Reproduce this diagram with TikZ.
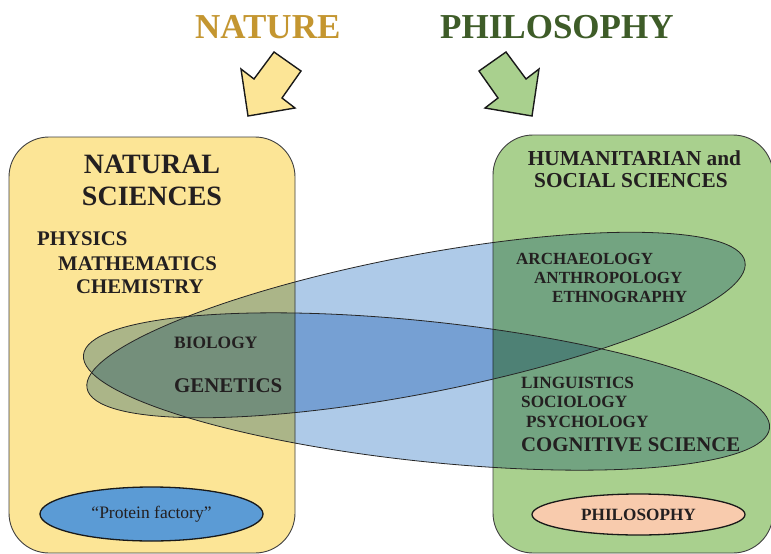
\documentclass[tikz,border=0pt]{standalone}
\usepackage{fontspec}
\setmainfont{Liberation Serif}
\usetikzlibrary{shapes.geometric}
\definecolor{boxyellow}{RGB}{252,229,150}
\definecolor{boxgreen}{RGB}{169,208,142}
\definecolor{ellblue}{RGB}{174,202,232}
\definecolor{natcol}{RGB}{196,150,48}
\definecolor{philcol}{RGB}{62,92,40}
\definecolor{txt}{RGB}{35,31,32}
\definecolor{protblue}{RGB}{91,155,213}
\definecolor{salmon}{RGB}{248,203,173}
\definecolor{edgegray}{RGB}{64,64,64}
\begin{document}
\begin{tikzpicture}[x=1pt,y=-1pt,
  lab/.style={anchor=base west, inner sep=0pt, text=txt, font=\fontsize{#1}{#1}\selectfont\bfseries},
  labc/.style={anchor=base, inner sep=0pt, text=txt, font=\fontsize{#1}{#1}\selectfont\bfseries},
  boxline/.style={draw=edgegray, line width=0.9pt, rounded corners=40pt},
  blockarrow/.style={draw=black!90, line width=1.4pt, line join=miter},
  bigell/.style={fill=ellblue, blend mode=multiply},
  bigedge/.style={draw=black!85, line width=0.8pt},
  smallell/.style={ellipse, draw=black!90, line width=1.3pt, inner sep=0pt, text=txt}
]
\clip (0,0) rectangle (771,554);
\fill[white] (0,0) rectangle (771,554);

% titles
\node[lab=35, text=natcol] (nature) at (195,38) {NATURE};
\node[lab=35, text=philcol] (philo) at (440,38) {PHILOSOPHY};

% block arrows
\draw[blockarrow, fill=boxyellow] (274,52) -- (301,71) -- (282,98) -- (295,108) -- (248,116) -- (241,69) -- (254,79) -- cycle;
\draw[blockarrow, fill=boxgreen] (506,52) -- (479,71) -- (498,98) -- (485,108) -- (532,116) -- (539,69) -- (526,79) -- cycle;

% boxes
\draw[boxline, fill=boxyellow] (9,137) rectangle (295,553);
\draw[boxline, fill=boxgreen] (493,135) rectangle (773,553);

% big ellipses (multiply blending)
\fill[bigell, rotate around={10.9:(416,325)}] (416,325) ellipse [x radius=335pt, y radius=69pt];
\fill[bigell, rotate around={-6.1:(426.5,391.5)}] (426.5,391.5) ellipse [x radius=345pt, y radius=70pt];
\draw[bigedge, rotate around={10.9:(416,325)}] (416,325) ellipse [x radius=335pt, y radius=69pt];
\draw[bigedge, rotate around={-6.1:(426.5,391.5)}] (426.5,391.5) ellipse [x radius=345pt, y radius=70pt];

% small ellipses
\node[smallell, fill=protblue, minimum width=223pt, minimum height=54pt,
      font=\fontsize{17.5}{17.5}\selectfont] (prot) at (151.5,514) {“Protein factory”};
\node[smallell, fill=salmon, minimum width=213pt, minimum height=41pt,
      font=\fontsize{17.2}{17.2}\selectfont\bfseries] (philell) at (638.5,514.5) {PHILOSOPHY};

% left box texts
\node[labc=28] (nat1) at (152,173) {NATURAL};
\node[labc=28] (nat2) at (152,205) {SCIENCES};
\node[lab=20.8] (phys) at (37,245) {PHYSICS};
\node[lab=20.8] (math) at (58,270) {MATHEMATICS};
\node[lab=20.8] (chem) at (76,293) {CHEMISTRY};
\node[lab=17.4] (bio) at (174,348) {BIOLOGY};
\node[lab=20.9] (gen) at (174,392) {GENETICS};

% right box texts
\node[labc=21.3] (hum1) at (634.5,165) {HUMANITARIAN and};
\node[labc=21.3] (hum2) at (631,187) {SOCIAL SCIENCES};
\node[lab=17] (arch) at (516,264) {ARCHAEOLOGY};
\node[lab=17] (anth) at (534,283) {ANTHROPOLOGY};
\node[lab=17] (ethn) at (552,302) {ETHNOGRAPHY};
\node[lab=17.2] (ling) at (521,388) {LINGUISTICS};
\node[lab=17.2] (soc) at (521,407) {SOCIOLOGY};
\node[lab=17.2] (psy) at (526,427) {PSYCHOLOGY};
\node[lab=20.8] (cog) at (521,451) {COGNITIVE SCIENCE};
\end{tikzpicture}
\end{document}
